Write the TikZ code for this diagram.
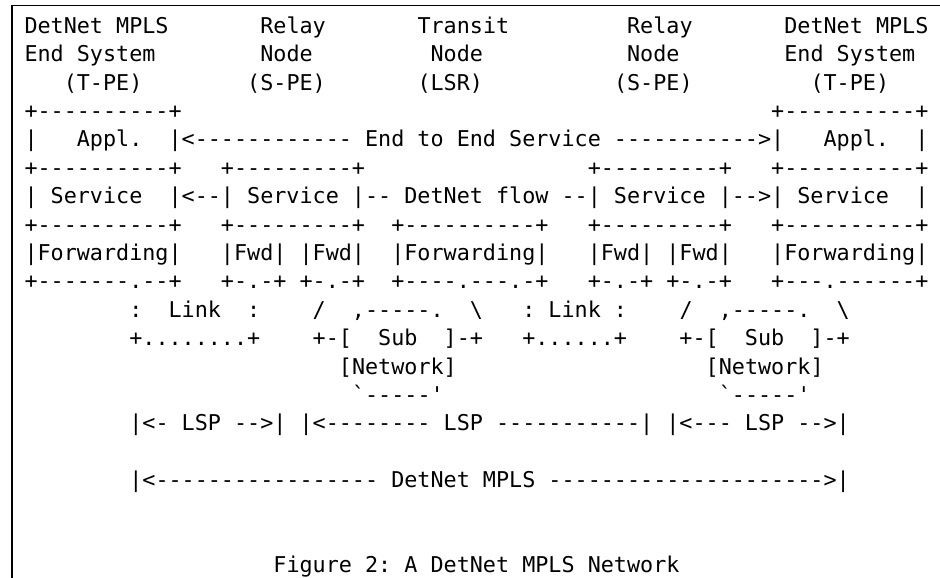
\documentclass[tikz,border=0pt]{standalone}
\usepackage{fontspec}
\newfontfamily\asc{DejaVu Sans Mono}
\newcommand\gp[1]{\kern#1\fontdimen2\font}
\begin{document}
\begin{tikzpicture}[x=1pt,y=1pt,
  row/.style={anchor=base west,inner sep=0pt,outer sep=0pt,text=black,
    font=\asc\fontsize{21.76}{26}\selectfont\frenchspacing},
  frame/.style={line width=1.6pt,draw=black}]
\useasboundingbox (0,0) rectangle (940,-578);
% frame
\coordinate (fb) at (12,-578);
\coordinate (ftl) at (12,-5.5);
\coordinate (ftr) at (940,-5.5);
\draw[frame] (fb) -- (ftl) -- (ftr);
% column x = 24.5 + 13.1*col
\node[row] (r1) at (24.5,-33.3) {DetNet MPLS\gp{7}Relay\gp{7}Transit\gp{9}Relay\gp{7}DetNet MPLS};
\node[row] (r2) at (24.5,-61.7) {End System\gp{8}Node\gp{9}Node\gp{11}Node\gp{8}End System};
\node[row] (r3) at (63.8,-90.1) {(T-PE)\gp{8}(S-PE)\gp{7}(LSR)\gp{10}(S-PE)\gp{9}(T-PE)};
\node[row] (r4) at (24.5,-118.5) {+----------+\gp{45}+----------+};
\node[row] (r5) at (24.5,-146.9) {|\gp{3}Appl.\gp{2}|<------------ End to End Service ----------->|\gp{3}Appl.\gp{2}|};
\node[row] (r6) at (24.5,-175.3) {+----------+\gp{3}+---------+\gp{17}+---------+\gp{3}+----------+};
\node[row] (r7) at (24.5,-203.7) {| Service\gp{2}|<--| Service |-- DetNet flow --| Service |-->| Service\gp{2}|};
\node[row] (r8) at (24.5,-232.1) {+----------+\gp{3}+---------+\gp{2}+----------+\gp{3}+---------+\gp{3}+----------+};
\node[row] (r9) at (24.5,-260.5) {|Forwarding|\gp{3}|Fwd| |Fwd|\gp{2}|Forwarding|\gp{3}|Fwd| |Fwd|\gp{3}|Forwarding|};
\node[row] (r10) at (24.5,-288.9) {+-------.--+\gp{3}+-.-+ +-.-+\gp{2}+----.---.-+\gp{3}+-.-+ +-.-+\gp{3}+---.------+};
\node[row] (r11) at (129.3,-317.3) {:\gp{2}Link\gp{2}:\gp{4}/\gp{2},-----.\gp{2}\textbackslash\gp{3}: Link :\gp{4}/\gp{2},-----.\gp{2}\textbackslash};
\node[row] (r12) at (129.3,-345.7) {+........+\gp{4}+-[\gp{2}Sub\gp{2}]-+\gp{3}+......+\gp{4}+-[\gp{2}Sub\gp{2}]-+};
\node[row] (r13) at (338.9,-374.1) {[Network]\gp{19}[Network]};
\node[row] (r14) at (352.0,-402.5) {`-----'\gp{21}`-----'};
\node[row] (r15) at (129.3,-430.9) {|<- LSP -->| |<-------- LSP -----------| |<--- LSP -->|};
\node[row] (r17) at (129.3,-487.7) {|<----------------- DetNet MPLS --------------------->|};
\node[row] (r20) at (273.4,-572.9) {Figure 2: A DetNet MPLS Network};
\end{tikzpicture}
\end{document}
